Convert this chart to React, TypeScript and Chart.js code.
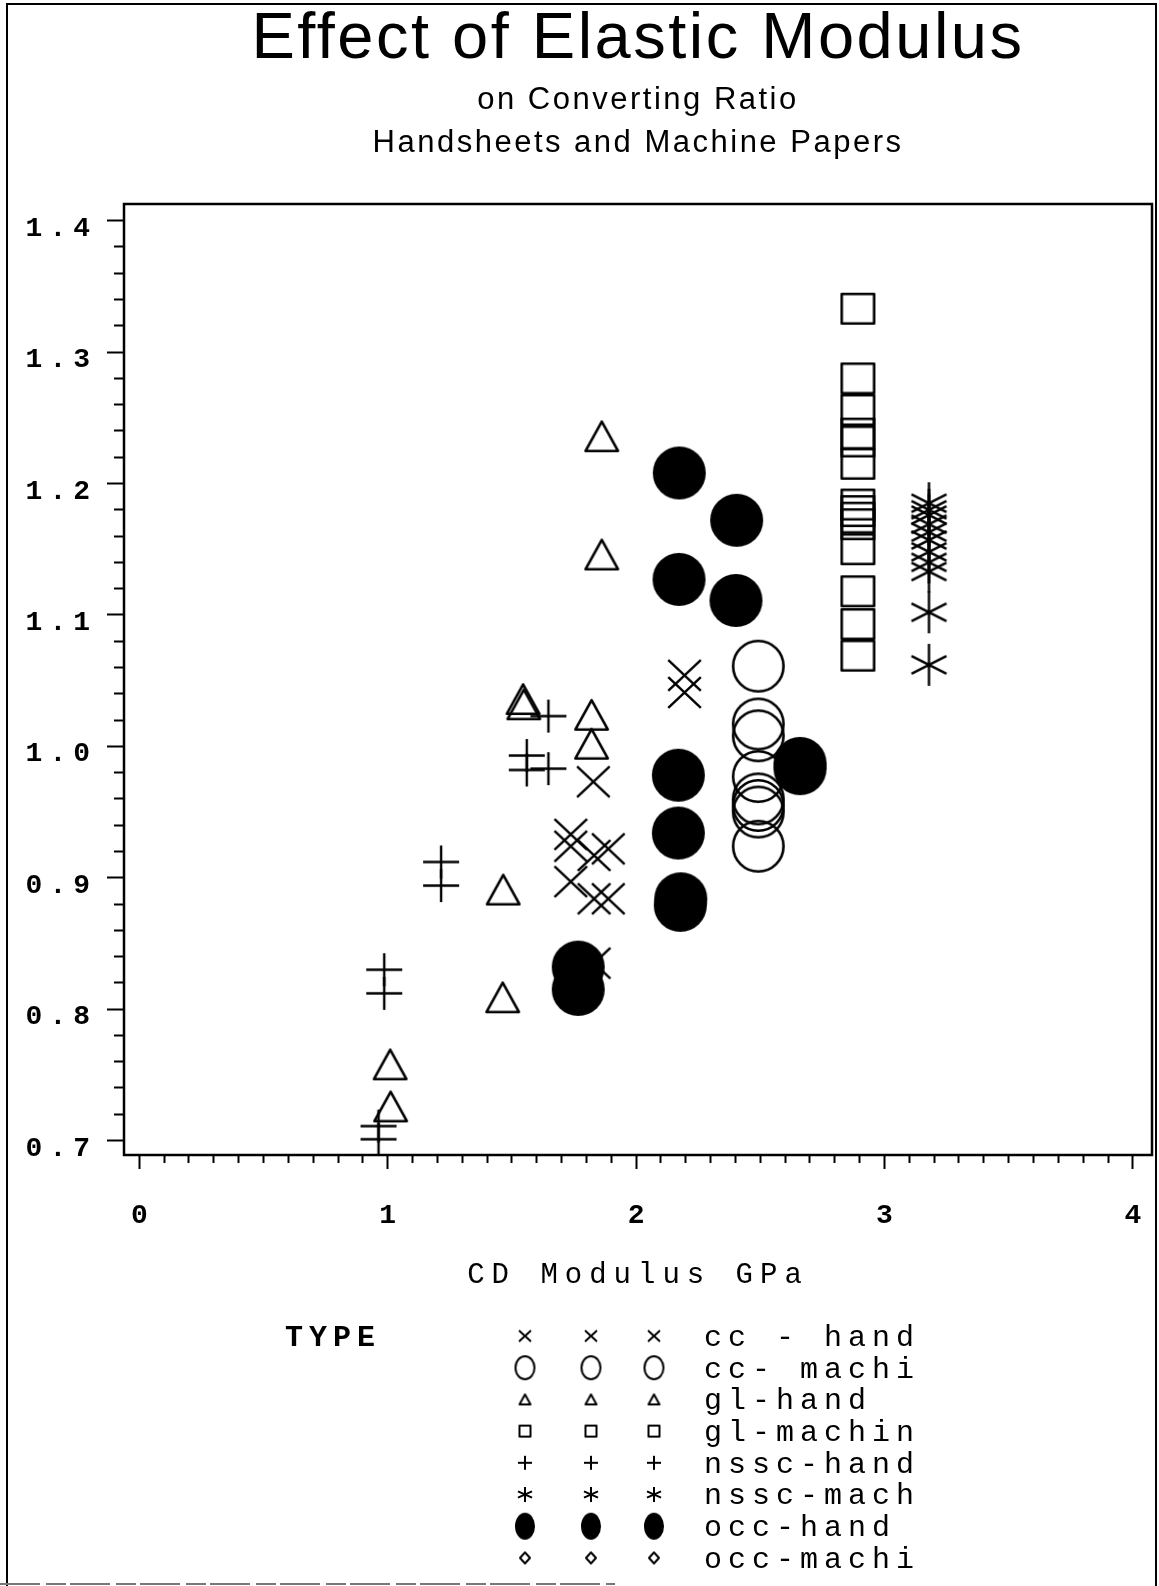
import React, { useEffect, useRef } from 'react';
import { Chart, registerables } from 'chart.js';

Chart.register(...registerables);

// ---------- text ----------
const TITLE = 'Effect of Elastic Modulus';
const SUBTITLE = ['on Converting Ratio', 'Handsheets and Machine Papers'];
const X_TITLE = 'CD Modulus GPa';
const LEGEND_TITLE = 'TYPE';
const X_TICK_LABELS = ['0', '1', '2', '3', '4'];
const Y_TICK_LABELS = ['0.7', '0.8', '0.9', '1.0', '1.1', '1.2', '1.3', '1.4'];
const TYPE_LABELS = ['cc - hand', 'cc- machi', 'gl-hand', 'gl-machin', 'nssc-hand', 'nssc-mach', 'occ-hand', 'occ-machi'];

// ---------- data (CD modulus GPa, converting ratio) ----------
const CC_HAND_X = [2.195, 2.195, 1.828, 1.737, 1.737, 1.831, 1.888, 1.737, 1.831, 1.888, 1.831];
const CC_HAND_Y = [1.054, 1.041, 0.973, 0.933, 0.924, 0.917, 0.922, 0.897, 0.884, 0.884, 0.835];

const CC_MACHI_X = [2.492, 2.492, 2.492, 2.492, 2.492, 2.492, 2.492, 2.492];
const CC_MACHI_Y = [1.061, 1.017, 1.008, 0.977, 0.960, 0.955, 0.950, 0.924];

const GL_HAND_X = [1.862, 1.862, 1.545, 1.548, 1.821, 1.821, 1.465, 1.463, 1.010, 1.012];
const GL_HAND_Y = [1.236, 1.146, 1.036, 1.032, 1.024, 1.002, 0.891, 0.809, 0.758, 0.726];

const GL_MACHIN_X = [2.893, 2.893, 2.893, 2.893, 2.893, 2.893, 2.893, 2.893, 2.893, 2.893, 2.893, 2.893, 2.893, 2.893];
const GL_MACHIN_Y = [1.333, 1.280, 1.256, 1.238, 1.232, 1.215, 1.184, 1.179, 1.174, 1.169, 1.150, 1.118, 1.093, 1.069];

const NSSC_HAND_X = [1.647, 1.560, 1.560, 1.647, 1.215, 1.215, 0.986, 0.986, 0.963, 0.963];
const NSSC_HAND_Y = [1.023, 0.993, 0.982, 0.983, 0.912, 0.894, 0.830, 0.812, 0.711, 0.701];

const NSSC_MACH_X = [3.179, 3.179, 3.179, 3.179, 3.179, 3.179, 3.179, 3.179, 3.179, 3.179, 3.179];
const NSSC_MACH_Y = [1.185, 1.180, 1.176, 1.169, 1.163, 1.157, 1.148, 1.140, 1.133, 1.102, 1.062];

const OCC_HAND_X = [2.174, 2.405, 2.173, 2.402, 2.170, 2.170, 2.180, 2.178, 2.660, 2.660, 1.767, 1.767];
const OCC_HAND_Y = [1.208, 1.172, 1.127, 1.111, 0.978, 0.934, 0.884, 0.879, 0.987, 0.983, 0.832, 0.815];

const OCC_MACHI_X: number[] = [];
const OCC_MACHI_Y: number[] = [];

const SERIES_X = [CC_HAND_X, CC_MACHI_X, GL_HAND_X, GL_MACHIN_X, NSSC_HAND_X, NSSC_MACH_X, OCC_HAND_X, OCC_MACHI_X];
const SERIES_Y = [CC_HAND_Y, CC_MACHI_Y, GL_HAND_Y, GL_MACHIN_Y, NSSC_HAND_Y, NSSC_MACH_Y, OCC_HAND_Y, OCC_MACHI_Y];

// ---------- styles ----------
const SYMBOL_KINDS = ['x', 'circle', 'triangle', 'square', 'plus', 'asterisk', 'disc', 'diamond'];
// [width, height, lineWidth] in the plot
const PLOT_SYMBOL_SIZE: Record<string, number[]> = {
  x: [35, 33, 2.4],
  circle: [53, 53, 2.6],
  triangle: [35, 32, 2.6],
  square: [35, 32, 2.6],
  plus: [36, 33, 2.4],
  asterisk: [35, 42, 2.4],
  disc: [53, 53, 0],
  diamond: [30, 30, 2.4],
};
const LEGEND_SYMBOL_SIZE: Record<string, number[]> = {
  x: [14, 13, 2],
  circle: [21, 25, 2],
  triangle: [13, 12, 2],
  square: [13, 13, 2],
  plus: [14, 14, 2],
  asterisk: [14, 15, 2],
  disc: [20, 27, 0],
  diamond: [12, 13, 2],
};

function makeSymbol(kind: string, w: number, h: number, lw: number): HTMLCanvasElement {
  const pad = 4;
  const c = document.createElement('canvas');
  c.width = Math.ceil(w) + pad * 2;
  c.height = Math.ceil(h) + pad * 2;
  const g = c.getContext('2d') as CanvasRenderingContext2D;
  g.translate(c.width / 2, c.height / 2);
  g.strokeStyle = '#000';
  g.fillStyle = '#000';
  g.lineWidth = lw;
  g.lineCap = 'butt';
  g.lineJoin = 'round';
  const a = (w - lw) / 2;
  const b = (h - lw) / 2;
  g.beginPath();
  switch (kind) {
    case 'x':
      g.moveTo(-a, -b); g.lineTo(a, b);
      g.moveTo(-a, b); g.lineTo(a, -b);
      g.stroke();
      break;
    case 'plus':
      g.moveTo(-w / 2, 0); g.lineTo(w / 2, 0);
      g.moveTo(0, -h / 2); g.lineTo(0, h / 2);
      g.stroke();
      break;
    case 'asterisk': {
      const d = h * 0.21;
      g.moveTo(0, -h / 2); g.lineTo(0, h / 2);
      g.moveTo(-w / 2, -d); g.lineTo(w / 2, d);
      g.moveTo(-w / 2, d); g.lineTo(w / 2, -d);
      g.stroke();
      break;
    }
    case 'circle':
      g.ellipse(0, 0, a, b, 0, 0, Math.PI * 2);
      g.stroke();
      break;
    case 'disc':
      g.ellipse(0, 0, w / 2, h / 2, 0, 0, Math.PI * 2);
      g.fill();
      break;
    case 'triangle':
      g.moveTo(0, -b); g.lineTo(a, b); g.lineTo(-a, b); g.closePath();
      g.stroke();
      break;
    case 'square':
      g.rect(-a, -b, 2 * a, 2 * b);
      g.stroke();
      break;
    case 'diamond':
      g.moveTo(0, -b); g.lineTo(a, 0); g.lineTo(0, b); g.lineTo(-a, 0); g.closePath();
      g.stroke();
      break;
  }
  return c;
}

function buildTicks(labels: string[], divisions: number) {
  const majors = labels.map(Number);
  const out: { value: number; lbl?: string }[] = [];
  for (let i = 0; i < majors.length; i++) {
    out.push({ value: majors[i], lbl: labels[i] });
    if (i < majors.length - 1) {
      for (let k = 1; k < divisions; k++) {
        out.push({ value: majors[i] + ((majors[i + 1] - majors[i]) * k) / divisions });
      }
    }
  }
  return out;
}

export default function App() {
  const ref = useRef<HTMLCanvasElement>(null);

  useEffect(() => {
    const canvas = ref.current;
    if (!canvas) return;

    const plotImgs = SYMBOL_KINDS.map((k) => {
      const [w, h, lw] = PLOT_SYMBOL_SIZE[k];
      return makeSymbol(k, w, h, lw);
    });
    const legendImgs = SYMBOL_KINDS.map((k) => {
      const [w, h, lw] = LEGEND_SYMBOL_SIZE[k];
      return makeSymbol(k, w, h, lw);
    });

    const datasets = TYPE_LABELS.map((label, i) => ({
      label,
      data: SERIES_X[i].map((x, j) => ({ x, y: SERIES_Y[i][j] })),
      pointStyle: plotImgs[i] as any,
      pointRadius: 12,
      pointHoverRadius: 12,
      showLine: false,
      order: SYMBOL_KINDS[i] === 'disc' ? 0 : 1,
    }));

    const xTicks = buildTicks(X_TICK_LABELS, 10);
    const yTicks = buildTicks(Y_TICK_LABELS, 5);

    const pagePlugin = {
      id: 'pageDecor',
      beforeDraw(chart: any) {
        const ctx = chart.ctx;
        ctx.save();
        ctx.fillStyle = '#fff';
        ctx.fillRect(0, 0, chart.width, chart.height);
        ctx.restore();
        ctx.letterSpacing = '2.5px';
      },
      afterDatasetsDraw(chart: any) {
        const ctx = chart.ctx;
        const a = chart.chartArea;
        ctx.save();
        ctx.strokeStyle = '#000';
        ctx.lineWidth = 2.5;
        ctx.strokeRect(a.left, a.top, a.right - a.left, a.bottom - a.top);
        ctx.restore();
        ctx.letterSpacing = '7px';
      },
      afterDraw(chart: any) {
        const ctx = chart.ctx;
        ctx.save();
        ctx.letterSpacing = '6px';
        ctx.fillStyle = '#000';
        ctx.textBaseline = 'middle';
        ctx.textAlign = 'left';
        const row0 = 1338;
        const rowStep = 31.7;
        ctx.font = 'bold 30px "Liberation Mono"';
        ctx.fillText(LEGEND_TITLE, 285, row0);
        ctx.font = '30px "Liberation Mono"';
        const cols = [525, 591, 654];
        chart.data.datasets.forEach((ds: any, i: number) => {
          const y = row0 + i * rowStep;
          const img = legendImgs[i];
          cols.forEach((cx) => ctx.drawImage(img, cx - img.width / 2, y - 2 - img.height / 2));
          ctx.fillText(ds.label, 704, y);
        });
        // page border
        ctx.letterSpacing = '0px';
        ctx.strokeStyle = '#000';
        ctx.lineWidth = 2;
        ctx.beginPath();
        ctx.moveTo(7, 1586);
        ctx.lineTo(7, 4);
        ctx.lineTo(1156, 4);
        ctx.lineTo(1156, 1586);
        ctx.stroke();
        ctx.strokeStyle = '#777';
        ctx.setLineDash([40, 6, 20, 4]);
        ctx.beginPath();
        ctx.moveTo(0, 1584);
        ctx.lineTo(615, 1584);
        ctx.stroke();
        ctx.restore();
        ctx.letterSpacing = '0px';
      },
    };

    const chart = new Chart(canvas, {
      type: 'scatter',
      data: { datasets: datasets as any },
      plugins: [pagePlugin as any],
      options: {
        animation: false,
        responsive: false,
        devicePixelRatio: 1,
        events: [],
        layout: { autoPadding: false, padding: { left: 0, right: 7, top: 0, bottom: 291 } } as any,
        plugins: {
          legend: { display: false },
          tooltip: { enabled: false },
          title: {
            display: true,
            text: TITLE,
            fullSize: false,
            color: '#000',
            font: { family: '"Liberation Sans", Arial, sans-serif', size: 65, weight: 'normal', lineHeight: 1 },
            padding: { top: 8, bottom: 0 },
          },
          subtitle: {
            display: true,
            text: SUBTITLE,
            fullSize: false,
            color: '#000',
            font: { family: '"Liberation Sans", Arial, sans-serif', size: 31, weight: 'normal', lineHeight: 43 / 31 },
            padding: { top: 6, bottom: 39 },
          },
        } as any,
        scales: {
          x: {
            type: 'linear',
            position: 'bottom',
            min: -0.0616,
            max: 4.077,
            afterBuildTicks: (scale: any) => {
              scale.ticks = xTicks.map((t) => ({ ...t }));
            },
            afterFit: (scale: any) => {
              scale.height = 140;
              scale.paddingLeft = 0;
              scale.paddingRight = 0;
            },
            ticks: {
              autoSkip: false,
              maxRotation: 0,
              minRotation: 0,
              color: '#000',
              padding: 30,
              labelOffset: 3.5,
              z: 1,
              font: { family: '"Liberation Mono", monospace', size: 28, weight: 'bold' },
              callback: (_v: any, i: number, ticks: any[]) => (ticks[i] && ticks[i].lbl) || '',
            },
            grid: {
              drawOnChartArea: false,
              drawTicks: true,
              tickLength: 14,
              tickWidth: 2,
              tickColor: '#000',
              z: 1,
              tickBorderDash: (c: any) => (c.tick && c.tick.lbl ? [] : [8, 40]),
            },
            border: { display: false },
            title: {
              display: true,
              text: X_TITLE,
              color: '#000',
              font: { family: '"Liberation Mono", monospace', size: 29 },
              padding: { top: 0, bottom: 2 },
            },
          } as any,
          y: {
            type: 'linear',
            position: 'left',
            min: 0.689,
            max: 1.4127,
            afterBuildTicks: (scale: any) => {
              scale.ticks = yTicks.map((t) => ({ ...t }));
            },
            afterFit: (scale: any) => {
              scale.width = 124;
              scale.paddingTop = 0;
              scale.paddingBottom = 0;
            },
            ticks: {
              autoSkip: false,
              color: '#000',
              padding: 10,
              labelOffset: 8,
              z: 1,
              font: { family: '"Liberation Mono", monospace', size: 28, weight: 'bold' },
              callback: (_v: any, i: number, ticks: any[]) => (ticks[i] && ticks[i].lbl) || '',
            },
            grid: {
              drawOnChartArea: false,
              drawTicks: true,
              tickLength: 17,
              tickWidth: 2,
              tickColor: '#000',
              z: 1,
              tickBorderDash: (c: any) => (c.tick && c.tick.lbl ? [] : [0, 7, 10, 40]),
            },
            border: { display: false },
          } as any,
        },
      },
    });

    return () => {
      chart.destroy();
    };
  }, []);

  return (
    <div style={{ position: 'absolute', left: 0, top: 0, width: 1159, height: 1586, background: '#fff' }}>
      <canvas ref={ref} width={1159} height={1586} style={{ display: 'block', width: 1159, height: 1586 }} />
    </div>
  );
}
